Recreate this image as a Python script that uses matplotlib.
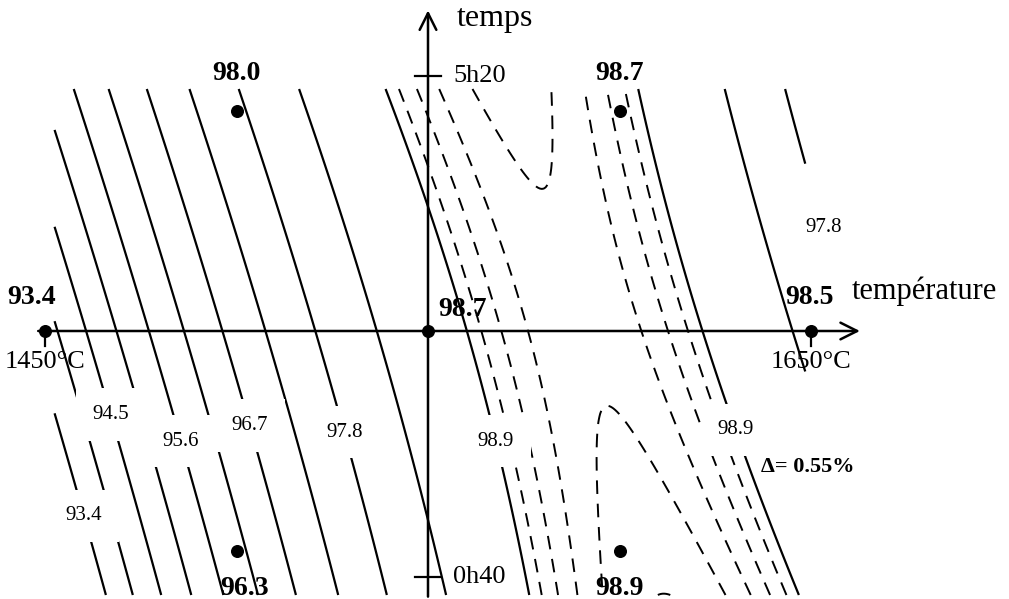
import numpy as np
import matplotlib
matplotlib.use("Agg")
import matplotlib.pyplot as plt

# plan d'expériences (variables codées) et rendements mesurés (%)
temp_code = [-2, -1, 1, -1, 1, 0, 2]
duree_code = [0, 1, 1, -1, -1, 0, 0]
rendement = [93.4, 98.0, 98.7, 96.3, 98.9, 98.7, 98.5]

# isoréponses : traits pleins tous les delta, tirets près du col
delta = 0.55
niveaux_pleins = [93.4, 93.95, 94.5, 95.05, 95.6, 96.15, 96.7, 97.25, 97.8, 98.35, 98.9]
niveaux_tirets = [98.96, 99.03, 99.10, 99.17, 99.24]

# étiquettes des courbes : niveau, ligne (v codé), côté du col
etiq_niveaux = [93.4, 94.5, 95.6, 96.7, 97.8, 98.9, 98.9, 97.8]
etiq_v = [-0.84, -0.38, -0.50, -0.43, -0.46, -0.50, -0.45, 0.47]
etiq_cote = [-1, -1, -1, -1, -1, -1, 1, 1]

ticks_temp = ["1450°C", "1650°C"]
ticks_duree = ["0h40", "5h20"]

plt.rcParams["font.family"] = ["Liberation Serif", "DejaVu Serif"]

# modèle quadratique ajusté par moindres carrés
u = np.array(temp_code, float)
v = np.array(duree_code, float)
X = np.column_stack([np.ones_like(u), u, v, u * v, u ** 2, v ** 2])
b0, b1, b2, b12, b11, b22 = np.linalg.lstsq(X, np.array(rendement), rcond=None)[0]


def modele(u, v):
    return b0 + b1 * u + b2 * v + b12 * u * v + b11 * u ** 2 + b22 * v ** 2


fig = plt.figure(figsize=(10.09, 5.99), dpi=100)
ax = fig.add_axes([0, 0, 1, 1])
ax.set_xlim(-428 / 191.5, (1009 - 428) / 191.5)
ax.set_ylim(-(599 - 331) / 220, 331 / 220)
ax.axis("off")

gu, gv = np.meshgrid(np.linspace(-1.95, 1.97, 400), np.linspace(-1.2, 1.1, 400))
gz = modele(gu, gv)
ax.contour(gu, gv, gz, levels=niveaux_pleins, colors="black", linewidths=1.6)
ax.contour(gu, gv, gz, levels=niveaux_tirets, colors="black", linewidths=1.4,
           linestyles=[(0, (7, 5))])

# étiquettes posées sur les courbes (le fond blanc coupe le trait)
for niv, vv, cote in zip(etiq_niveaux, etiq_v, etiq_cote):
    a = b11
    b = b1 + b12 * vv
    c = b0 + b2 * vv + b22 * vv ** 2 - niv
    disc = max(b * b - 4 * a * c, 0)
    racines = [(-b + s * np.sqrt(disc)) / (2 * a) for s in (1, -1)]
    uu = min(racines) if cote < 0 else max(racines)
    ax.text(uu, vv, f"{niv:.1f}", fontsize=15, ha="center", va="center",
            bbox=dict(boxstyle="square,pad=0.8", fc="white", ec="none"), zorder=3)

# axes fléchés
fleche = dict(arrowstyle="->,head_length=1.2,head_width=0.6", lw=1.8, color="black")
ax.annotate("", xy=(2.27, 0), xytext=(-2.05, 0), arrowprops=fleche, zorder=4)
ax.annotate("", xy=(0, 1.47), xytext=(0, -1.22), arrowprops=fleche, zorder=4)
ax.text(0.15, 1.42, "temps", fontsize=23, ha="left", va="center")
ax.text(2.215, 0.18, "température", fontsize=22, ha="left", va="center")

# graduations
for uu, lab in zip([-2, 2], ticks_temp):
    ax.plot([uu, uu], [0, -0.07], color="black", lw=1.6, zorder=4)
    ax.text(uu, -0.14, lab, fontsize=19, ha="center", va="center")
for vv, lab in zip([-1.12, 1.16], ticks_duree):
    ax.plot([-0.07, 0.07], [vv, vv], color="black", lw=1.6, zorder=4)
    ax.text(0.13, vv, lab, fontsize=19, ha="left", va="center")

# points d'essai et valeurs mesurées
ax.scatter(temp_code, duree_code, s=70, color="black", zorder=5)
decal = {(-2, 0): (-0.07, 0.15), (2, 0): (-0.01, 0.15), (0, 0): (0.18, 0.10),
         (-1, 1): (0.0, 0.17), (1, 1): (0.0, 0.17), (-1, -1): (0.04, -0.17),
         (1, -1): (0.0, -0.17)}
for uu, vv, r in zip(temp_code, duree_code, rendement):
    du, dv = decal[(uu, vv)]
    ax.text(uu + du, vv + dv, f"{r:.1f}", fontsize=20, fontweight="bold",
            ha="center", va="center", zorder=6)

ax.text(1.74, -0.62, f"Δ= {delta:.2f}%", fontsize=16, fontweight="bold",
        ha="left", va="center")

fig.savefig("out.png", dpi=100)
